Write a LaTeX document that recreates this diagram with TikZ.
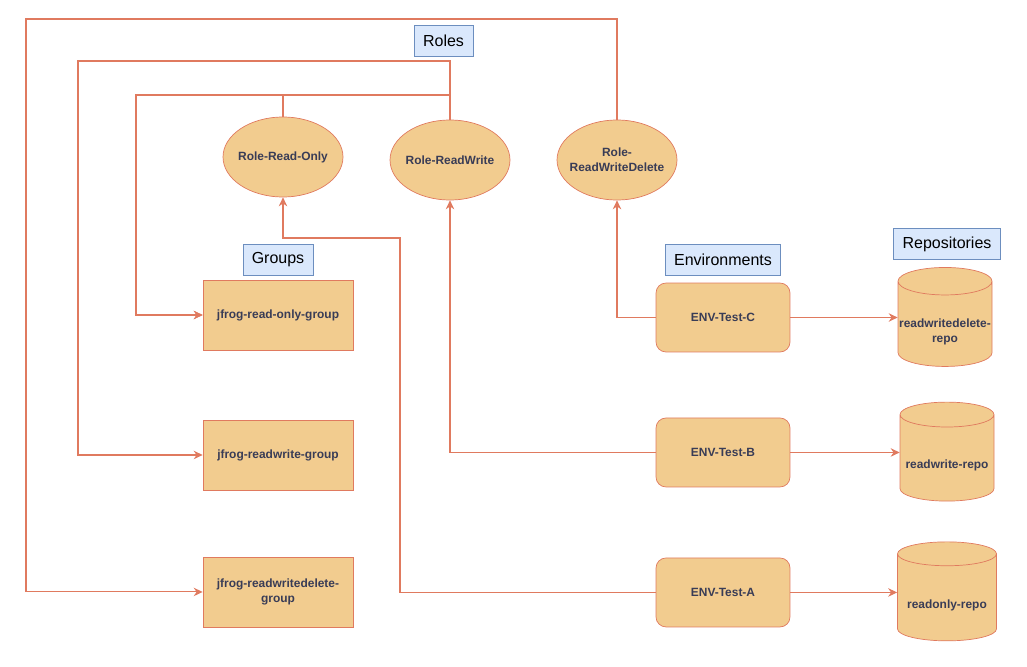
\documentclass[tikz,border=0pt]{standalone}
\usepackage{fontspec}
\setmainfont{Liberation Sans}
\usetikzlibrary{positioning,shapes.geometric,arrows.meta}
\definecolor{boxfill}{HTML}{F2CC8F}
\definecolor{boxline}{HTML}{E07A5F}
\definecolor{boxtext}{HTML}{393C56}
\definecolor{tagfill}{HTML}{DAE8FC}
\definecolor{tagline}{HTML}{6C8EBF}
\newcommand\repotext[1]{\raisebox{-0.16cm}[\height][\depth]{\begin{tabular}{@{}c@{}}#1\end{tabular}}}
\tikzset{
  tag/.style={draw=tagline, fill=tagfill, font=\fontsize{9.1}{11}\selectfont, minimum height=0.62cm, inner sep=0pt},
  boxfont/.style={text=boxtext, font=\fontsize{6.8}{8.4}\selectfont\bfseries, align=center},
  role/.style={ellipse, draw=boxline, fill=boxfill, boxfont, minimum width=2.4cm, minimum height=1.6cm, inner ysep=0pt, inner xsep=-0.1cm},
  group/.style={rectangle, draw=boxline, fill=boxfill, boxfont, minimum width=3cm, minimum height=1.4cm},
  env/.style={group, rounded corners=0.2cm, minimum width=2.68cm, minimum height=1.38cm},
  repo/.style={cylinder, shape border rotate=90, aspect=0.3, draw=boxline, fill=boxfill, boxfont, minimum width=1.88cm, minimum height=1.98cm, inner sep=0pt},
  link/.style={draw=boxline, line width=0.6pt, -{Stealth[length=1.8mm,width=1.7mm]}}
}
\begin{document}
\begin{tikzpicture}[x=0.02cm, y=-0.02cm, node distance=2.8cm, on grid]
\useasboundingbox (0,0) rectangle (1027,666);
\node[role] (rro) at (283,157) {Role-Read-Only};
\node[role] (rrw) at (450,160) {Role-ReadWrite};
\node[role] (rrwd) at (617,160) {Role-\\ReadWriteDelete};
\node[tag, minimum width=1.18cm] (roles) at (443.5,40.5) {Roles};
\node[group] (gro) at (278,315) {jfrog-read-only-group};
\node[group, below=of gro] (grw) {jfrog-readwrite-group};
\node[group, below=2.74cm of grw] (grwd) {jfrog-readwritedelete-\\group};
\node[tag, minimum width=1.4cm, above=1.1cm of gro] (groups) {Groups};
\node[env] (envc) at (723,317.5) {ENV-Test-C};
\node[env, below=2.7cm of envc] (envb) {ENV-Test-B};
\node[env, below=of envb] (enva) {ENV-Test-A};
\node[tag, minimum width=2.3cm, above=1.16cm of envc] (envs) {Environments};
\node[repo] (rrwdr) at (945,324) {\repotext{readwritedelete-\\repo}};
\node[repo] (rrwr) at (947,458) {\repotext{readwrite-repo}};
\node[repo, minimum width=1.98cm] (ror) at (947,597.5) {\repotext{readonly-repo}};
\node[tag, minimum width=2.14cm] (repos) at (947,244) {Repositories};
\coordinate (ka) at (400,238);
\coordinate (kro) at (136,95);
\coordinate (krw) at (78,61);
\coordinate (krwd) at (26,19);
\draw[link] (envc.east) -- (rrwdr.west |- envc.east);
\draw[link] (envb.east) -- (rrwr.west |- envb.east);
\draw[link] (enva.east) -- (ror.west |- enva.east);
\draw[link] (envc.west) -| (rrwd.south);
\draw[link] (envb.west) -| (rrw.south);
\draw[link] (enva.west) -| (ka) -| (rro.south);
\draw[link] (rro.north) |- (kro) |- (gro.west);
\draw[link] (rrw.north) |- (kro) |- (gro.west);
\draw[link] (rrw.north) |- (krw) |- (grw.west);
\draw[link] (rrwd.north) |- (krwd) |- (grwd.west);
\end{tikzpicture}
\end{document}
